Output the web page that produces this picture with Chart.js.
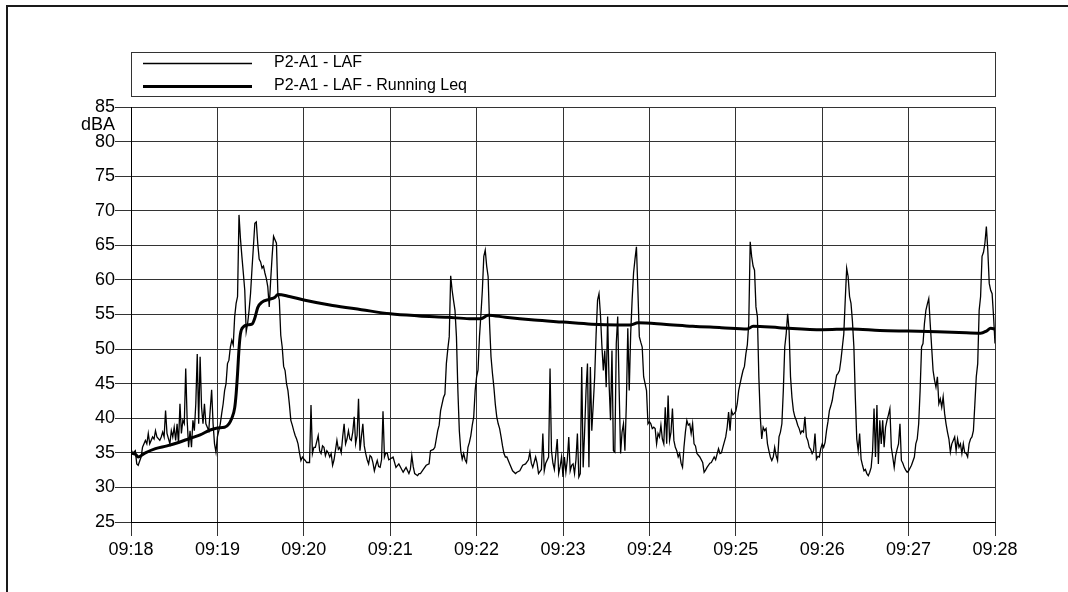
<!DOCTYPE html>
<html>
<head>
<meta charset="utf-8">
<script src="https://cdn.jsdelivr.net/npm/chart.js@4.4.1/dist/chart.umd.min.js"></script>
<style>
  html, body { margin: 0; padding: 0; background: #fff; }
  canvas { display: block; }
</style>
</head>
<body>
<canvas id="levelChart" width="1068" height="592"></canvas>
<script>
// seconds after 09:18:00
const tickSeconds = [0, 60, 120, 180, 240, 300, 360, 420, 480, 540, 600];
const tickLabels = ['09:18', '09:19', '09:20', '09:21', '09:22', '09:23', '09:24', '09:25', '09:26', '09:27', '09:28'];
const levelTicks = [25, 30, 35, 40, 45, 50, 55, 60, 65, 70, 75, 80, 85];

// LAF samples
const lafSeconds = [
    0, 1, 3, 4, 5, 7, 8, 10, 11, 12,
    13, 15, 16, 17, 18, 20, 21, 22, 23, 24,
    25, 27, 28, 29, 30, 31, 32, 33, 34, 35,
    36, 37, 38, 39, 40, 41, 42, 43, 44, 45,
    46, 47, 48, 49, 50, 51, 52, 53, 54, 56,
    57, 58, 59, 60, 61, 62, 63, 64, 65, 66,
    67, 68, 69, 70, 71, 72, 73, 74, 75, 76,
    77, 78, 79, 80, 81, 82, 83, 84, 85, 86,
    87, 88, 89, 90, 91, 92, 93, 94, 95, 96,
    97, 98, 99, 100, 101, 102, 103, 104, 105, 106,
    107, 108, 109, 110, 111, 112, 113, 114, 115, 116,
    117, 118, 119, 120, 121, 122, 124, 125, 126, 127,
    128, 130, 131, 132, 133, 134, 135, 136, 137, 138,
    139, 140, 141, 143, 144, 145, 146, 147, 148, 149,
    150, 151, 152, 153, 154, 155, 156, 157, 158, 159,
    160, 161, 162, 163, 164, 165, 166, 167, 168, 169,
    170, 171, 172, 173, 174, 175, 176, 177, 178, 179,
    180, 182, 184, 186, 188, 189, 191, 193, 194, 195,
    196, 197, 199, 200, 201, 203, 205, 207, 208, 210,
    211, 213, 214, 215, 217, 218, 219, 220, 221, 222,
    223, 224, 225, 226, 227, 228, 229, 230, 231, 232,
    233, 234, 235, 236, 237, 238, 239, 240, 241, 242,
    243, 244, 245, 246, 247, 248, 249, 250, 251, 252,
    253, 254, 255, 256, 257, 258, 259, 260, 261, 263,
    265, 267, 268, 270, 272, 274, 276, 277, 278, 279,
    281, 282, 283, 285, 286, 287, 288, 290, 291, 292,
    293, 294, 296, 297, 298, 299, 300, 301, 302, 303,
    304, 305, 306, 307, 308, 309, 310, 311, 312, 313,
    314, 315, 316, 317, 318, 319, 320, 321, 322, 323,
    324, 325, 326, 327, 328, 329, 330, 331, 332, 333,
    334, 335, 336, 337, 338, 339, 340, 341, 342, 343,
    344, 345, 346, 347, 348, 349, 350, 351, 352, 353,
    354, 355, 356, 357, 358, 359, 360, 361, 362, 363,
    364, 365, 366, 367, 368, 369, 370, 371, 372, 373,
    374, 375, 376, 377, 378, 379, 380, 381, 382, 383,
    384, 385, 386, 387, 388, 389, 390, 391, 392, 393,
    395, 397, 398, 399, 400, 402, 403, 405, 406, 408,
    409, 410, 411, 413, 414, 415, 416, 417, 418, 419,
    420, 421, 422, 423, 424, 425, 426, 427, 428, 429,
    430, 431, 432, 433, 434, 435, 436, 437, 438, 439,
    440, 441, 442, 443, 444, 445, 446, 447, 448, 449,
    450, 451, 452, 453, 454, 455, 456, 457, 458, 459,
    460, 461, 462, 463, 464, 465, 466, 467, 468, 469,
    470, 471, 472, 473, 474, 475, 476, 477, 478, 479,
    480, 481, 482, 483, 484, 485, 486, 487, 488, 489,
    490, 491, 492, 493, 494, 495, 496, 497, 498, 499,
    500, 501, 502, 503, 504, 505, 506, 507, 508, 509,
    510, 511, 512, 513, 514, 515, 516, 517, 518, 519,
    520, 521, 522, 523, 524, 525, 526, 527, 528, 529,
    530, 531, 532, 533, 534, 535, 536, 537, 538, 539,
    540, 542, 544, 545, 546, 547, 548, 549, 550, 551,
    552, 553, 554, 555, 556, 557, 558, 559, 560, 561,
    562, 563, 564, 565, 566, 567, 568, 569, 570, 571,
    572, 573, 574, 575, 576, 577, 578, 579, 580, 581,
    582, 583, 584, 585, 586, 587, 588, 589, 590, 591,
    592, 593, 594, 595, 596, 597, 598, 599, 600
];
const lafLevels = [
    35.6, 34.9, 35.3, 33.4, 33.2, 34.4, 35.8, 36.8, 36.3, 37.8,
    36.3, 37.3, 37.0, 38.2, 37.3, 36.8, 37.3, 38.0, 37.3, 41.1,
    37.8, 36.3, 38.2, 37.3, 38.7, 36.8, 39.2, 36.3, 42.1, 37.8,
    39.7, 39.2, 47.2, 39.7, 35.8, 38.2, 35.8, 39.7, 38.2, 42.1,
    49.3, 39.2, 48.9, 41.6, 39.2, 42.1, 39.2, 38.7, 38.2, 44.1,
    39.2, 36.3, 35.1, 37.3, 38.2, 39.2, 40.7, 42.1, 44.0, 45.0,
    47.9, 48.4, 50.3, 51.3, 50.6, 54.7, 56.6, 57.6, 69.4, 66.0,
    63.4, 61.0, 58.5, 52.5, 53.7, 55.6, 58.0, 61.5, 64.8, 68.2,
    68.4, 65.3, 63.0, 62.6, 61.7, 62.0, 61.0, 60.2, 59.0, 56.1,
    60.0, 63.4, 66.3, 65.8, 65.3, 58.0, 57.1, 52.0, 50.3, 47.5,
    46.9, 45.0, 44.0, 42.0, 39.7, 39.0, 38.2, 37.5, 37.0, 36.3,
    35.0, 33.9, 34.4, 34.1, 33.9, 33.6, 33.6, 41.9, 34.9, 35.8,
    35.8, 37.5, 35.3, 34.9, 36.0, 35.8, 34.6, 35.3, 35.0, 34.4,
    34.9, 33.2, 34.0, 36.8, 35.5, 35.8, 35.0, 37.3, 39.2, 36.3,
    37.0, 38.2, 37.0, 36.8, 38.0, 40.2, 36.3, 37.5, 42.8, 35.3,
    37.3, 39.2, 36.0, 34.9, 34.0, 33.4, 34.6, 34.4, 33.6, 32.4,
    33.2, 33.9, 33.0, 32.9, 34.0, 41.0, 34.4, 35.0, 34.9, 34.0,
    34.1, 34.4, 32.9, 33.4, 32.6, 32.2, 32.9, 32.0, 32.6, 34.6,
    33.0, 32.0, 31.7, 32.0, 32.0, 32.6, 33.2, 33.4, 35.3, 35.5,
    35.8, 38.2, 39.0, 41.1, 43.0, 43.5, 47.9, 50.0, 51.8, 60.6,
    58.5, 57.0, 55.6, 51.8, 44.0, 38.2, 35.3, 34.1, 34.9, 34.0,
    33.6, 35.8, 36.5, 37.5, 39.0, 40.2, 44.0, 46.0, 47.0, 51.8,
    55.0, 58.5, 63.4, 64.3, 62.0, 60.5, 53.7, 48.9, 46.5, 44.5,
    42.0, 40.2, 39.2, 38.5, 37.3, 36.0, 34.9, 34.4, 34.4, 33.4,
    32.4, 32.0, 32.2, 32.4, 33.2, 33.4, 34.0, 35.1, 33.5, 32.9,
    34.4, 33.5, 32.0, 32.6, 37.8, 32.4, 33.5, 34.4, 47.2, 35.3,
    33.5, 32.6, 37.0, 32.0, 33.0, 34.4, 31.5, 34.4, 32.2, 34.0,
    37.3, 32.4, 33.2, 33.4, 32.0, 34.0, 37.8, 31.5, 32.0, 47.4,
    32.9, 38.0, 44.0, 47.9, 32.9, 47.4, 38.2, 42.0, 46.0, 52.2,
    57.1, 58.0, 55.0, 50.5, 46.9, 49.8, 44.5, 54.7, 45.0, 39.7,
    49.8, 35.3, 35.1, 50.8, 54.7, 44.0, 34.9, 38.0, 39.2, 35.3,
    42.1, 53.0, 44.0, 52.2, 57.1, 61.0, 63.0, 64.8, 58.5, 51.8,
    51.0, 50.3, 46.0, 45.0, 44.0, 39.2, 39.5, 39.2, 38.5, 38.7,
    38.5, 36.3, 37.8, 37.3, 39.0, 37.0, 36.3, 41.6, 36.3, 43.3,
    36.8, 38.0, 41.4, 36.8, 35.8, 35.3, 34.4, 34.9, 33.5, 32.9,
    35.8, 38.0, 39.7, 39.0, 39.2, 37.8, 39.2, 36.3, 36.0, 34.9,
    34.4, 33.6, 32.2, 32.5, 32.9, 33.5, 33.6, 34.4, 34.0, 35.6,
    34.9, 35.0, 35.8, 37.3, 38.7, 40.9, 38.2, 41.1, 40.5, 40.7,
    41.0, 42.1, 44.0, 45.0, 46.0, 46.9, 47.5, 49.3, 50.6, 53.7,
    65.5, 63.4, 62.0, 61.4, 56.1, 54.7, 46.0, 40.2, 37.0, 38.7,
    38.2, 38.5, 36.3, 35.3, 34.4, 33.9, 34.4, 35.8, 34.6, 33.9,
    37.3, 38.0, 39.2, 44.0, 50.3, 52.2, 55.1, 52.7, 46.0, 43.0,
    41.1, 40.2, 39.7, 39.0, 38.5, 37.8, 38.2, 38.0, 40.2, 37.3,
    36.8, 35.8, 35.5, 34.9, 35.3, 37.8, 34.1, 34.5, 34.4, 35.6,
    36.3, 35.8, 36.5, 38.2, 39.5, 41.1, 41.8, 42.6, 44.0, 45.0,
    46.2, 46.5, 46.9, 48.4, 50.3, 52.2, 57.1, 61.7, 60.5, 57.6,
    56.6, 54.0, 50.3, 43.0, 37.0, 35.3, 37.8, 34.1, 33.2, 32.4,
    32.6, 32.0, 31.7, 32.2, 32.9, 35.3, 41.4, 34.4, 41.9, 33.4,
    39.7, 36.3, 39.7, 35.8, 38.7, 39.7, 40.5, 41.4, 35.8, 34.4,
    32.9, 34.6, 35.5, 36.3, 39.2, 33.9, 33.5, 32.9, 32.5, 32.2,
    32.4, 33.2, 34.4, 36.3, 37.0, 39.2, 44.0, 50.3, 50.8, 53.7,
    55.6, 56.5, 57.3, 53.7, 50.3, 46.9, 45.5, 44.5, 46.0, 42.1,
    42.8, 41.6, 43.1, 40.7, 39.2, 38.0, 37.0, 35.1, 36.3, 36.8,
    37.3, 35.3, 37.0, 35.8, 36.3, 34.9, 36.3, 35.0, 34.9, 34.4,
    36.3, 37.0, 37.3, 38.2, 42.0, 46.0, 47.9, 55.6, 57.6, 63.4,
    64.0, 65.3, 67.7, 64.3, 59.5, 58.5, 58.0, 54.7, 50.8
];

// running Leq
const leqSeconds = [
    0, 3, 5, 10, 17, 25, 33, 41, 48, 55,
    60, 65, 68, 70, 72, 73, 74, 75, 76, 78,
    81, 84, 86, 88, 91, 96, 100, 102, 110, 120,
    140, 160, 180, 200, 220, 235, 243, 248, 260, 280,
    300, 320, 338, 347, 352, 370, 390, 410, 428, 432,
    450, 480, 500, 520, 540, 560, 575, 590, 594, 597,
    600
];
const leqLevels = [
    35.0, 34.8, 34.4, 35.0, 35.6, 36.0, 36.5, 37.1, 37.6, 38.3,
    38.6, 38.7, 39.2, 40.0, 41.5, 43.5, 46.5, 50.0, 52.2, 53.2,
    53.5, 53.6, 54.5, 56.0, 56.8, 57.2, 57.5, 57.9, 57.6, 57.1,
    56.3, 55.7, 55.1, 54.8, 54.6, 54.4, 54.4, 54.9, 54.6, 54.2,
    53.9, 53.6, 53.5, 53.5, 53.8, 53.6, 53.3, 53.1, 52.9, 53.3,
    53.1, 52.8, 52.9, 52.7, 52.6, 52.5, 52.4, 52.3, 52.6, 53.0,
    52.9
];

const FONT_FAMILY = "'Liberation Sans', Arial, sans-serif";
const INK = '#000';
const GRID = '#333';

const lafPoints = lafSeconds.map((s, i) => ({ x: s, y: lafLevels[i] }));
const leqPoints = leqSeconds.map((s, i) => ({ x: s, y: leqLevels[i] }));

// page border, only the top and left edges fall inside the view
const pageFrame = {
    id: 'pageFrame',
    beforeDraw(chart) {
        const c = chart.ctx;
        c.save();
        c.fillStyle = '#fff';
        c.fillRect(0, 0, chart.width, chart.height);
        c.fillStyle = '#1a1a1a';
        c.fillRect(6, 5, 2, chart.height);
        c.fillRect(6, 5, chart.width, 2);
        c.restore();
    }
};

// boxed legend above the plot plus the unit under the top tick
const boxLegend = {
    id: 'boxLegend',
    afterDraw(chart) {
        const c = chart.ctx;
        const area = chart.chartArea;
        c.save();
        c.strokeStyle = GRID;
        c.lineWidth = 1;
        c.strokeRect(Math.round(area.left) + 0.5, 52.5, Math.round(area.right - area.left), 44);

        c.font = '16px ' + FONT_FAMILY;
        c.fillStyle = INK;
        c.textAlign = 'left';
        c.textBaseline = 'middle';
        chart.data.datasets.forEach((ds, i) => {
            const y = 63 + i * 23;
            c.beginPath();
            c.strokeStyle = INK;
            c.lineWidth = ds.borderWidth;
            c.moveTo(143, y + 0.5);
            c.lineTo(252, y + 0.5);
            c.stroke();
            c.fillText(ds.label, 274, y);
        });

        c.font = '18px ' + FONT_FAMILY;
        c.textAlign = 'right';
        c.fillText('dBA', area.left - 16, 125);
        c.restore();
    }
};

const ctx = document.getElementById('levelChart').getContext('2d');

const levelChart = new Chart(ctx, {
    type: 'line',
    data: {
        datasets: [
            {
                label: 'P2-A1 - LAF',
                data: lafPoints,
                borderColor: INK,
                borderWidth: 1.3,
                pointRadius: 0,
                tension: 0,
                order: 1
            },
            {
                label: 'P2-A1 - LAF - Running Leq',
                data: leqPoints,
                borderColor: INK,
                borderWidth: 3,
                pointRadius: 0,
                cubicInterpolationMode: 'monotone',
                order: 0
            }
        ]
    },
    options: {
        responsive: false,
        animation: false,
        devicePixelRatio: 1,
        parsing: false,
        layout: {
            padding: { top: 107, right: 73, bottom: 0, left: 0 }
        },
        plugins: {
            legend: { display: false },
            tooltip: { enabled: false }
        },
        scales: {
            x: {
                type: 'linear',
                min: 0,
                max: 600,
                afterBuildTicks: axis => {
                    axis.ticks = tickSeconds.map(v => ({ value: v }));
                },
                afterFit: axis => {
                    axis.height = 70;
                },
                ticks: {
                    callback: v => tickLabels[tickSeconds.indexOf(v)],
                    font: { family: FONT_FAMILY, size: 18 },
                    color: INK,
                    padding: 3,
                    maxRotation: 0,
                    autoSkip: false
                },
                grid: {
                    color: GRID,
                    lineWidth: 1,
                    tickLength: 14
                },
                border: { color: INK, width: 1 }
            },
            y: {
                min: 25,
                max: 85,
                afterBuildTicks: axis => {
                    axis.ticks = levelTicks.map(v => ({ value: v }));
                },
                afterFit: axis => {
                    axis.width = 131;
                },
                ticks: {
                    font: { family: FONT_FAMILY, size: 18 },
                    color: INK,
                    padding: 0
                },
                grid: {
                    color: GRID,
                    lineWidth: 1,
                    tickLength: 16
                },
                border: { color: INK, width: 1 }
            }
        }
    },
    plugins: [pageFrame, boxLegend]
});
</script>
</body>
</html>
